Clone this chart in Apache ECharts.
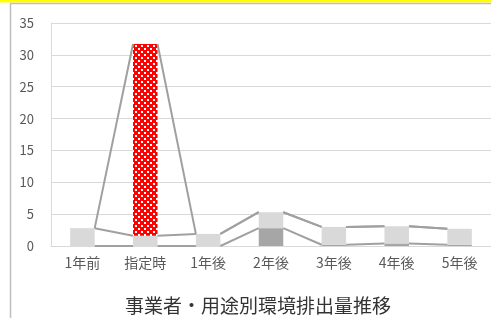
<!DOCTYPE html>
<html lang="ja">
<head>
    <meta charset="UTF-8">
    <title>事業者・用途別環境排出量推移</title>
    <style>
        html, body { margin: 0; padding: 0; background: #fff; }
        #main { width: 491px; height: 318px; }
    </style>
</head>
<body>
    <div id="main"></div>
    <script src="https://cdn.jsdelivr.net/npm/echarts@6/dist/echarts.min.js"></script>
    <script>
        var categories = ['1年前', '指定時', '1年後', '2年後', '3年後', '4年後', '5年後'];
        // 積み上げ：下から濃いグレー、薄いグレー、赤（模様）
        var darkData = [0, 0, 0, 2.8, 0.2, 0.4, 0.2];
        var lightData = [2.8, 1.6, 1.9, 2.5, 2.8, 2.7, 2.5];
        var redData = [0, 30.1, 0, 0, 0, 0, 0];
        var yTicks = [0, 5, 10, 15, 20, 25, 30, 35];

        // 赤地に白い点の模様
        var tile = document.createElement('canvas');
        tile.width = 6; tile.height = 6;
        var ctx = tile.getContext('2d');
        ctx.fillStyle = '#ff0000';
        ctx.fillRect(0, 0, 6, 6);
        ctx.fillStyle = '#ffffff';
        ctx.fillRect(0, 0, 2, 2);
        ctx.fillRect(3, 3, 2, 2);

        var barRatio = 0.39;

        // 区分線（系列線）のデータ：各段の上端を隣の棒とつなぐ
        var stacks = [darkData, lightData, redData];
        var lineData = [];
        var cum = categories.map(function () { return 0; });
        stacks.forEach(function (arr) {
            var tops = cum.map(function (c, i) { return c + arr[i]; });
            for (var i = 0; i < categories.length - 1; i++) {
                lineData.push([i, tops[i], tops[i + 1]]);
            }
            cum = tops;
        });

        var myChart = echarts.init(document.getElementById('main'));
        var option = {
            animation: false,
            title: {
                text: '事業者・用途別環境排出量推移',
                left: 253,
                textAlign: 'center',
                top: 291,
                textStyle: {
                    fontFamily: 'Noto Sans CJK JP',
                    fontSize: 19,
                    fontWeight: 'normal',
                    color: '#333333'
                }
            },
            graphic: [
                { type: 'rect', shape: { x: 0, y: 0, width: 491, height: 2.5 }, style: { fill: '#ffff00' }, z: 100 },
                { type: 'rect', shape: { x: 10.5, y: 3.5, width: 500, height: 400 }, style: { fill: 'none', stroke: '#bfbfbf', lineWidth: 1.5 }, z: 100 }
            ],
            grid: { left: 51, right: -11, top: 23, bottom: 72 },
            xAxis: {
                type: 'category',
                data: categories,
                axisLine: { lineStyle: { color: '#d9d9d9' } },
                axisTick: { show: false },
                axisLabel: {
                    margin: 10,
                    fontSize: 14,
                    fontFamily: 'Noto Sans CJK JP',
                    color: '#595959'
                }
            },
            yAxis: {
                type: 'value',
                min: yTicks[0],
                max: yTicks[yTicks.length - 1],
                interval: 5,
                axisLine: { show: true, lineStyle: { color: '#d9d9d9' } },
                axisTick: { show: false },
                splitLine: { lineStyle: { color: '#d9d9d9' } },
                axisLabel: {
                    margin: 17,
                    fontSize: 13,
                    fontFamily: 'Noto Sans CJK JP',
                    color: '#595959'
                }
            },
            series: [
                {
                    type: 'bar', stack: 'a', data: darkData,
                    barWidth: (barRatio * 100) + '%',
                    itemStyle: { color: '#a6a6a6' }
                },
                {
                    type: 'bar', stack: 'a', data: lightData,
                    itemStyle: { color: '#d9d9d9' }
                },
                {
                    type: 'bar', stack: 'a', data: redData,
                    itemStyle: { color: { image: tile, repeat: 'repeat' } }
                },
                {
                    type: 'custom',
                    data: lineData,
                    encode: { x: 0, y: 1 },
                    z: 5,
                    renderItem: function (params, api) {
                        var i = api.value(0);
                        var p1 = api.coord([i, api.value(1)]);
                        var p2 = api.coord([i + 1, api.value(2)]);
                        var hw = api.size([1, 0])[0] * barRatio / 2;
                        return {
                            type: 'line',
                            shape: { x1: p1[0] + hw, y1: p1[1], x2: p2[0] - hw, y2: p2[1] },
                            style: { stroke: '#a0a0a0', lineWidth: 2 }
                        };
                    }
                }
            ]
        };
        myChart.setOption(option);
    </script>
</body>
</html>
